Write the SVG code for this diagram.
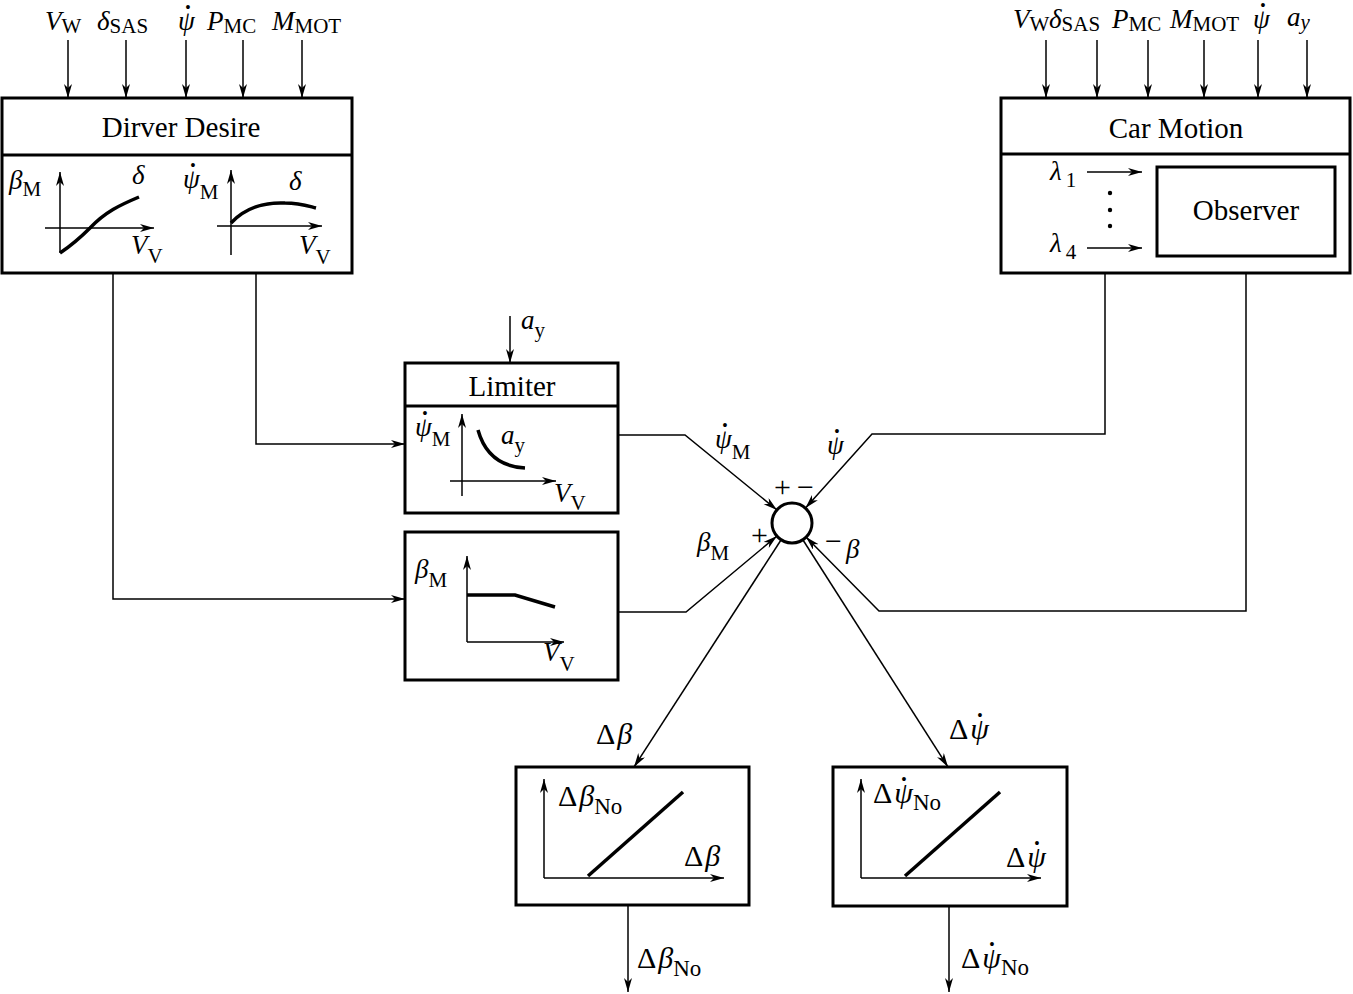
<svg xmlns="http://www.w3.org/2000/svg" width="1353" height="994" viewBox="0 0 1353 994">
<style>
.box{fill:#fff;stroke:#000;stroke-width:3}
.div{stroke:#000;stroke-width:3}
.ln{fill:none;stroke:#000;stroke-width:1.5}
.ax{fill:none;stroke:#000;stroke-width:1.5}
.cv{fill:none;stroke:#000;stroke-width:3.5}
.t{font-family:"Liberation Serif","Times New Roman",serif;font-size:27px;fill:#000}
.d{font-family:"Liberation Serif","Times New Roman",serif;font-size:30px;fill:#000}
.ttl{font-family:"Liberation Serif","Times New Roman",serif;font-size:29px;fill:#000}
.i{font-style:italic}
.s{font-size:21px;font-style:normal}
.sd{font-size:23px;font-style:normal}
.si{font-size:21px;font-style:italic}
.pm{font-family:"Liberation Serif","Times New Roman",serif;font-size:30px;fill:#000}
.b{font-size:14px;font-style:normal;font-weight:bold}
</style>
<defs>
<marker id="ah" markerUnits="userSpaceOnUse" markerWidth="16" markerHeight="10" refX="14" refY="4" orient="auto">
<path d="M0,0 L14,4 L0,8 L4,4 Z" fill="#000"/>
</marker>
</defs>
<rect width="1353" height="994" fill="#fff"/>

<g id="connectors">
<line class="ln" x1="68" y1="40" x2="68" y2="98" marker-end="url(#ah)"/>
<line class="ln" x1="126" y1="40" x2="126" y2="98" marker-end="url(#ah)"/>
<line class="ln" x1="186" y1="40" x2="186" y2="98" marker-end="url(#ah)"/>
<line class="ln" x1="243" y1="40" x2="243" y2="98" marker-end="url(#ah)"/>
<line class="ln" x1="302" y1="40" x2="302" y2="98" marker-end="url(#ah)"/>
<line class="ln" x1="1046" y1="40" x2="1046" y2="98" marker-end="url(#ah)"/>
<line class="ln" x1="1097" y1="40" x2="1097" y2="98" marker-end="url(#ah)"/>
<line class="ln" x1="1148" y1="40" x2="1148" y2="98" marker-end="url(#ah)"/>
<line class="ln" x1="1204" y1="40" x2="1204" y2="98" marker-end="url(#ah)"/>
<line class="ln" x1="1258" y1="40" x2="1258" y2="98" marker-end="url(#ah)"/>
<line class="ln" x1="1307" y1="40" x2="1307" y2="98" marker-end="url(#ah)"/>
<line class="ln" x1="510" y1="316" x2="510" y2="363" marker-end="url(#ah)"/>
<polyline class="ln" points="113,273 113,599 405,599" marker-end="url(#ah)"/>
<polyline class="ln" points="256,273 256,444 405,444" marker-end="url(#ah)"/>
<polyline class="ln" points="618,435 685,435 777,510" marker-end="url(#ah)"/>
<polyline class="ln" points="1105,273 1105,434 872,434 805.5,508" marker-end="url(#ah)"/>
<polyline class="ln" points="618,612 686,612 777,536" marker-end="url(#ah)"/>
<polyline class="ln" points="1246,273 1246,611 879,611 806,537" marker-end="url(#ah)"/>
<line class="ln" x1="781" y1="540" x2="634" y2="767" marker-end="url(#ah)"/>
<line class="ln" x1="803" y1="540" x2="948" y2="767" marker-end="url(#ah)"/>
<line class="ln" x1="628" y1="905" x2="628" y2="992" marker-end="url(#ah)"/>
<line class="ln" x1="949" y1="906" x2="949" y2="992" marker-end="url(#ah)"/>
</g>

<g id="input-labels-left">
<text class="t" x="45" y="30"><tspan class="i">V</tspan><tspan class="s" dy="3">W</tspan></text>
<text class="t" x="97" y="30"><tspan class="i">δ</tspan><tspan class="s" dy="3">SAS</tspan></text>
<text class="t" x="178" y="30"><tspan class="i">ψ</tspan><tspan class="b" x="185.5" y="12">•</tspan></text>
<text class="t" x="207" y="30"><tspan class="i">P</tspan><tspan class="s" dy="3">MC</tspan></text>
<text class="t" x="272" y="30"><tspan class="i">M</tspan><tspan class="s" dy="3">MOT</tspan></text>
</g>

<g id="input-labels-right">
<text class="t" x="1013" y="28"><tspan class="i">V</tspan><tspan class="s" dy="3">W</tspan></text>
<text class="t" x="1049" y="28"><tspan class="i">δ</tspan><tspan class="s" dy="3">SAS</tspan></text>
<text class="t" x="1112" y="28"><tspan class="i">P</tspan><tspan class="s" dy="3">MC</tspan></text>
<text class="t" x="1170" y="28"><tspan class="i">M</tspan><tspan class="s" dy="3">MOT</tspan></text>
<text class="t" x="1253" y="28"><tspan class="i">ψ</tspan><tspan class="b" x="1260.5" y="10">•</tspan></text>
<text class="t" x="1287" y="26"><tspan class="i">a</tspan><tspan class="si" dy="3">y</tspan></text>
</g>

<g id="driver-desire">
<rect class="box" x="2" y="98" width="350" height="175"/>
<line class="div" x1="2" y1="155" x2="352" y2="155"/>
<text class="ttl" x="181" y="137" text-anchor="middle">Dirver Desire</text>
<line class="ax" x1="60" y1="253" x2="60" y2="172" marker-end="url(#ah)"/>
<line class="ax" x1="45" y1="228" x2="154" y2="228" marker-end="url(#ah)"/>
<path class="cv" d="M60,253 C75,243 82,236 90,228 C105,212 120,205 139,197"/>
<text class="t" x="9" y="189"><tspan class="i">β</tspan><tspan class="s" dy="7">M</tspan></text>
<text class="t i" x="132" y="184">δ</text>
<text class="t" x="131" y="254"><tspan class="i">V</tspan><tspan class="s" dy="9">V</tspan></text>
<line class="ax" x1="231" y1="255" x2="231" y2="170" marker-end="url(#ah)"/>
<line class="ax" x1="217" y1="226" x2="322" y2="226" marker-end="url(#ah)"/>
<path class="cv" d="M231,223 C245,208 265,202 285,203 C300,203 308,206 316,208"/>
<text class="t" x="183" y="188"><tspan class="i">ψ</tspan><tspan class="s" dy="11">M</tspan><tspan class="b" x="190.5" y="170">•</tspan></text>
<text class="t i" x="289" y="190">δ</text>
<text class="t" x="299" y="254"><tspan class="i">V</tspan><tspan class="s" dy="10">V</tspan></text>
</g>

<g id="car-motion">
<rect class="box" x="1001" y="98" width="349" height="175"/>
<line class="div" x1="1001" y1="154" x2="1350" y2="154"/>
<text class="ttl" x="1176" y="138" text-anchor="middle">Car Motion</text>
<text class="t" x="1050" y="180"><tspan class="i">λ</tspan><tspan class="s" dx="4" dy="7">1</tspan></text>
<line class="ax" x1="1087" y1="172" x2="1142" y2="172" marker-end="url(#ah)"/>
<text class="t" x="1050" y="252"><tspan class="i">λ</tspan><tspan class="s" dx="4" dy="7">4</tspan></text>
<line class="ax" x1="1087" y1="248" x2="1142" y2="248" marker-end="url(#ah)"/>
<circle cx="1110" cy="193" r="2.2" fill="#000"/>
<circle cx="1110" cy="210" r="2.2" fill="#000"/>
<circle cx="1110" cy="226" r="2.2" fill="#000"/>
</g>

<g id="observer">
<rect class="box" x="1157" y="167" width="178" height="89"/>
<text class="ttl" x="1246" y="220" text-anchor="middle">Observer</text>
</g>

<g id="limiter">
<rect class="box" x="405" y="363" width="213" height="150"/>
<line class="div" x1="405" y1="406" x2="618" y2="406"/>
<text class="ttl" x="512" y="396" text-anchor="middle">Limiter</text>
<line class="ax" x1="462" y1="496" x2="462" y2="414" marker-end="url(#ah)"/>
<line class="ax" x1="450" y1="481" x2="556" y2="481" marker-end="url(#ah)"/>
<path class="cv" d="M478,430 Q488,466 525,468"/>
<text class="t" x="415" y="436"><tspan class="i">ψ</tspan><tspan class="s" dy="10">M</tspan><tspan class="b" x="422.5" y="418">•</tspan></text>
<text class="t" x="501" y="444"><tspan class="i">a</tspan><tspan class="s" dy="8">y</tspan></text>
<text class="t" x="554" y="502"><tspan class="i">V</tspan><tspan class="s" dy="8">V</tspan></text>
</g>

<g id="limiter-input-label">
<text class="t" x="521" y="329"><tspan class="i">a</tspan><tspan class="s" dy="8">y</tspan></text>
</g>

<g id="beta-map">
<rect class="box" x="405" y="532" width="213" height="148"/>
<line class="ax" x1="467" y1="642" x2="467" y2="556" marker-end="url(#ah)"/>
<line class="ax" x1="467" y1="642" x2="564" y2="642" marker-end="url(#ah)"/>
<path class="cv" d="M467,595 L515,595 L555,607"/>
<text class="t" x="415" y="578"><tspan class="i">β</tspan><tspan class="s" dy="9">M</tspan></text>
<text class="t" x="543" y="661"><tspan class="i">V</tspan><tspan class="s" dy="10">V</tspan></text>
</g>

<g id="sum-junction">
<circle cx="792" cy="523" r="20" fill="#fff" stroke="#000" stroke-width="3"/>
<text class="pm" x="774" y="497">+</text>
<text class="pm" x="797" y="497">−</text>
<text class="pm" x="751" y="545">+</text>
<text class="pm" x="825" y="551">−</text>
<text class="t" x="715" y="448"><tspan class="i">ψ</tspan><tspan class="s" dy="11">M</tspan><tspan class="b" x="722.5" y="430">•</tspan></text>
<text class="t" x="827" y="454"><tspan class="i">ψ</tspan><tspan class="b" x="834.5" y="436">•</tspan></text>
<text class="t" x="697" y="551"><tspan class="i">β</tspan><tspan class="s" dy="9">M</tspan></text>
<text class="t i" x="846" y="558">β</text>
<text class="d" x="596" y="744">Δ<tspan class="i" dx="2">β</tspan></text>
<text class="d" x="949" y="739">Δ<tspan class="i" dx="2">ψ</tspan><tspan class="b" x="977.5" y="720">•</tspan></text>
</g>

<g id="delta-beta-map">
<rect class="box" x="516" y="767" width="233" height="138"/>
<line class="ax" x1="544" y1="878" x2="544" y2="779" marker-end="url(#ah)"/>
<line class="ax" x1="544" y1="878" x2="724" y2="878" marker-end="url(#ah)"/>
<line class="cv" x1="588" y1="876" x2="683" y2="792"/>
<text class="d" x="558" y="806">Δ<tspan class="i" dx="2">β</tspan><tspan class="sd" dy="8">No</tspan></text>
<text class="d" x="684" y="866">Δ<tspan class="i" dx="2">β</tspan></text>
</g>

<g id="delta-psi-map">
<rect class="box" x="833" y="767" width="234" height="139"/>
<line class="ax" x1="861" y1="878" x2="861" y2="779" marker-end="url(#ah)"/>
<line class="ax" x1="861" y1="878" x2="1041" y2="878" marker-end="url(#ah)"/>
<line class="cv" x1="905" y1="876" x2="1000" y2="792"/>
<text class="d" x="873" y="803">Δ<tspan class="i" dx="2">ψ</tspan><tspan class="sd" dy="7">No</tspan><tspan class="b" x="901.5" y="784">•</tspan></text>
<text class="d" x="1006" y="867">Δ<tspan class="i" dx="2">ψ</tspan><tspan class="b" x="1034.5" y="848">•</tspan></text>
</g>

<g id="output-labels">
<text class="d" x="637" y="968">Δ<tspan class="i" dx="2">β</tspan><tspan class="sd" dy="8">No</tspan></text>
<text class="d" x="961" y="968">Δ<tspan class="i" dx="2">ψ</tspan><tspan class="sd" dy="7">No</tspan><tspan class="b" x="989.5" y="949">•</tspan></text>
</g>
</svg>
